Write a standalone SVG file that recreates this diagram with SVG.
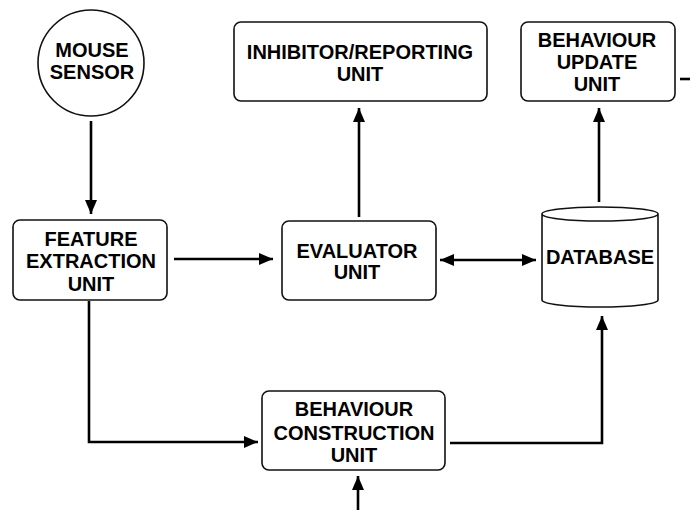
<svg xmlns="http://www.w3.org/2000/svg" width="690" height="510" viewBox="0 0 690 510">
<style>
.box{fill:#fff;stroke:#111;stroke-width:1.6}
.t{font-family:"Liberation Sans",Arial,sans-serif;font-weight:bold;font-size:20px;fill:#000;text-anchor:middle}
.c{fill:none;stroke:#000;stroke-width:2.6}
</style>
<defs>
<marker id="ah" markerUnits="userSpaceOnUse" markerWidth="14" markerHeight="12" refX="14" refY="6" orient="auto-start-reverse">
<path d="M0,0 L14,6 L0,12 Z" fill="#000"/>
</marker>
</defs>
<rect width="690" height="510" fill="#fff"/>
<g id="connectors">
<line class="c" x1="91" y1="121" x2="91" y2="214" marker-end="url(#ah)"/>
<line class="c" x1="174" y1="259" x2="273" y2="259" marker-end="url(#ah)"/>
<line class="c" x1="440" y1="260" x2="536" y2="260" marker-start="url(#ah)" marker-end="url(#ah)"/>
<line class="c" x1="359" y1="217" x2="359" y2="108" marker-end="url(#ah)"/>
<line class="c" x1="599" y1="202" x2="599" y2="108" marker-end="url(#ah)"/>
<polyline class="c" points="89,301 89,442 258,442" marker-end="url(#ah)"/>
<polyline class="c" points="450,443 602,443 602,316" marker-end="url(#ah)"/>
<line class="c" x1="358" y1="510" x2="358" y2="476" marker-end="url(#ah)"/>
<line class="c" x1="680" y1="79" x2="690" y2="79"/>
</g>
<g id="mouse-sensor">
<circle class="box" cx="91" cy="63" r="53"/>
<text class="t" x="92" y="57">MOUSE</text>
<text class="t" x="92" y="79">SENSOR</text>
</g>
<g id="feature-extraction">
<rect class="box" x="13" y="220" width="154" height="80" rx="7"/>
<text class="t" x="91" y="246">FEATURE</text>
<text class="t" x="91" y="268">EXTRACTION</text>
<text class="t" x="91" y="291">UNIT</text>
</g>
<g id="evaluator">
<rect class="box" x="282" y="221" width="154" height="79" rx="7"/>
<text class="t" x="357" y="258">EVALUATOR</text>
<text class="t" x="357" y="279">UNIT</text>
</g>
<g id="database">
<path class="box" d="M542,214 L542,300 A58,7 0 0 0 658,300 L658,214 A58,7 0 0 0 542,214 A58,7 0 0 0 658,214"/>
<text class="t" x="600" y="264">DATABASE</text>
</g>
<g id="inhibitor">
<rect class="box" x="234" y="22" width="253" height="79" rx="7"/>
<text class="t" x="360" y="59">INHIBITOR/REPORTING</text>
<text class="t" x="360" y="81">UNIT</text>
</g>
<g id="behaviour-update">
<rect class="box" x="521" y="22" width="154" height="79" rx="7"/>
<text class="t" x="597" y="47">BEHAVIOUR</text>
<text class="t" x="597" y="69">UPDATE</text>
<text class="t" x="597" y="91">UNIT</text>
</g>
<g id="behaviour-construction">
<rect class="box" x="262" y="391" width="183" height="79" rx="7"/>
<text class="t" x="354" y="416">BEHAVIOUR</text>
<text class="t" x="354" y="440">CONSTRUCTION</text>
<text class="t" x="354" y="462">UNIT</text>
</g>
</svg>
